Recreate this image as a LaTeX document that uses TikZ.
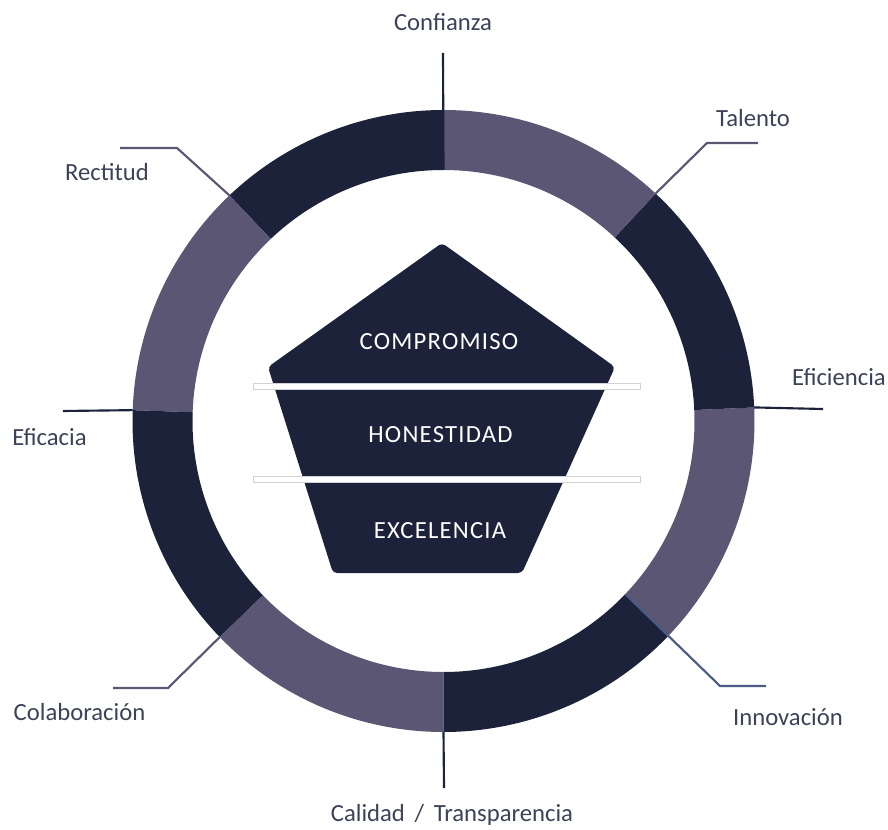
\documentclass[tikz,border=0pt]{standalone}
\usepackage{fontspec}
\setmainfont{Carlito}
\newfontfamily\capsfont[LetterSpace=5]{Carlito}
\usetikzlibrary{calc}
\definecolor{navy}{HTML}{1B223A}
\definecolor{lilac}{HTML}{5A5674}
\definecolor{steel}{HTML}{4A5B85}
\definecolor{labeltext}{HTML}{3C4257}
\tikzset{
  lbl/.style={text=labeltext, font=\fontsize{18.5}{22}\selectfont, inner sep=0pt},
  pillar/.style={text=white, font=\capsfont\fontsize{18.5}{22}\selectfont, inner sep=0pt},
  lead/.style={line width=1.6pt},
  divider/.style={fill=white, draw=gray!35, line width=0.6pt},
}
\begin{document}
\begin{tikzpicture}[x=0.75pt,y=0.75pt]
	\useasboundingbox (0,0) rectangle (888,829);
	\coordinate (c) at (443.5,408);
	% ring
	\foreach \a/\b/\col in {90/133.5/navy, 133.5/178/lilac, 178/224/navy, 224/270/lilac,
		270/316.4/navy, 316.4/362.5/lilac, 2.5/47/navy, 47/90/lilac}
		\fill[\col] ($(c)+(\a:311)$) arc[start angle=\a, end angle=\b, radius=311]
			-- ($(c)+(\b:251)$) arc[start angle=\b, end angle=\a, radius=251] -- cycle;
	% core
	\fill[navy, rounded corners=3] (442,586) -- (615,462) -- (522,256) -- (333,256) -- (268,462) -- cycle;
	\filldraw[divider] (253,440) rectangle (640,446);
	\filldraw[divider] (253,347) rectangle (640,353);
	\node[pillar] (compromiso) at (439,487) {COMPROMISO};
	\node[pillar] (honestidad) at (440.5,394) {HONESTIDAD};
	\node[pillar] (excelencia) at (440,298) {EXCELENCIA};
	% labels
	\node[lbl] (confianza) at (443,807) {Confianza};
	\node[lbl] (talento) at (753,711) {Talento};
	\node[lbl] (rectitud) at (107,657) {Rectitud};
	\node[lbl] (eficiencia) at (839,452) {Eficiencia};
	\node[lbl] (eficacia) at (49.5,392) {Eficacia};
	\node[lbl] (innovacion) at (788,112) {Innovación};
	\node[lbl] (colaboracion) at (79.5,117) {Colaboración};
	\node[lbl] (calidad) at (452,14) {Calidad\, /\, Transparencia};
	% leads
	\coordinate (rConf) at ($(c)+(90:251)$);
	\coordinate (eConf) at (443,776);
	\coordinate (rTal) at ($(c)+(47:311)$);
	\coordinate (kTal) at (707,686);
	\coordinate (eTal) at (758,686);
	\coordinate (rRec) at ($(c)+(133.5:311)$);
	\coordinate (kRec) at (177,681);
	\coordinate (eRec) at (120,681);
	\coordinate (rEfn) at ($(c)+(2.5:311)$);
	\coordinate (eEfn) at (823,420);
	\coordinate (rEfc) at ($(c)+(178:311)$);
	\coordinate (eEfc) at (63,418);
	\coordinate (rInn) at ($(c)+(316.4:251)$);
	\coordinate (kInn) at (720,143);
	\coordinate (eInn) at (766,143);
	\coordinate (rCol) at ($(c)+(224:311)$);
	\coordinate (kCol) at (168,141);
	\coordinate (eCol) at (113,141);
	\coordinate (rCal) at ($(c)+(270:311)$);
	\coordinate (eCal) at (444,41);
	\draw[lead, navy] (rConf) -- (eConf);
	\draw[lead, lilac] (rTal) -- (kTal) -- (eTal);
	\draw[lead, lilac] (rRec) -- (kRec) -- (eRec);
	\draw[lead, navy] (rEfn) -- (eEfn);
	\draw[lead, navy] (rEfc) -- (eEfc);
	\draw[lead, steel] (rInn) -- (kInn) -- (eInn);
	\draw[lead, lilac] (rCol) -- (kCol) -- (eCol);
	\draw[lead, navy] (rCal) -- (eCal);
\end{tikzpicture}
\end{document}
